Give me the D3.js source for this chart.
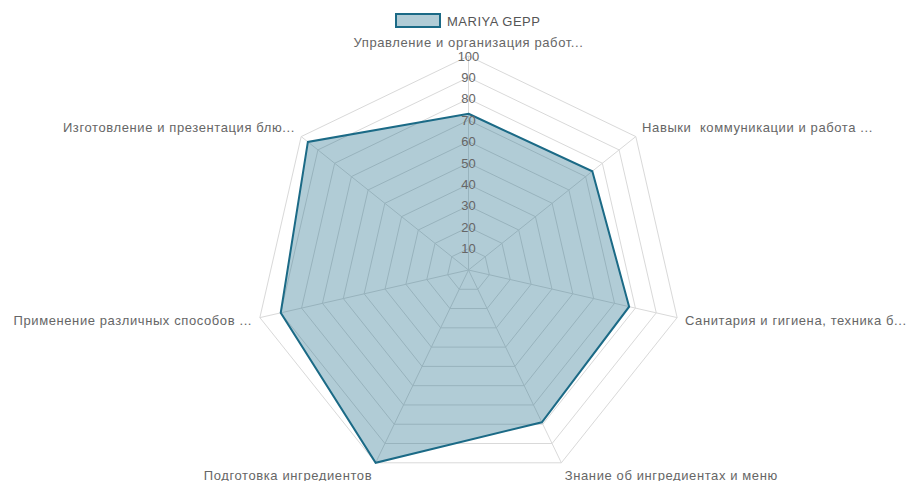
<!DOCTYPE html>
<html>
<head>
<meta charset="utf-8">
<script src="https://cdn.jsdelivr.net/npm/d3@7"></script>
<style>
  body { margin: 0; background: #fff; }
  text { font-family: "Liberation Sans", Arial, sans-serif; white-space: pre; }
</style>
</head>
<body>
<div id="radar"></div>
<script>
const axisNames = [
    "Управление и организация работ...",
    "Навыки  коммуникации и работа ...",
    "Санитария и гигиена, техника б...",
    "Знание об ингредиентах и меню",
    "Подготовка ингредиентов",
    "Применение различных способов ...",
    "Изготовление и презентация блю..."
];
const seriesName = "MARIYA GEPP";
const seriesValues = [73, 74, 77, 79, 100, 90, 96];
const ticks = [10, 20, 30, 40, 50, 60, 70, 80, 90, 100];

const width = 906;
const height = 481;
const cx = 468.5;
const cy = 270;
const radius = 214;
const lineColor = "#1b6a86";

const svg = d3.select("#radar").append("svg")
    .attr("width", width)
    .attr("height", height);

const r = d3.scaleLinear().domain([0, 100]).range([0, radius]);
const angle = d3.scaleLinear()
    .domain([0, axisNames.length])
    .range([0, 2 * Math.PI]);

const pt = (i, v) => [cx + r(v) * Math.sin(angle(i)), cy - r(v) * Math.cos(angle(i))];

const grid = svg.append("g").attr("class", "grid");

// rings
grid.selectAll("polygon")
    .data(ticks)
    .enter().append("polygon")
    .attr("points", t => axisNames.map((_, i) => pt(i, t).join(",")).join(" "))
    .attr("fill", "none")
    .attr("stroke", "#d9d9d9")
    .attr("stroke-width", 1);

// spokes
grid.selectAll("line")
    .data(axisNames)
    .enter().append("line")
    .attr("x1", cx)
    .attr("y1", cy)
    .attr("x2", (d, i) => pt(i, 100)[0])
    .attr("y2", (d, i) => pt(i, 100)[1])
    .attr("stroke", "#d9d9d9")
    .attr("stroke-width", 1);

// series area
const line = d3.line().curve(d3.curveLinearClosed);
svg.append("path")
    .datum(seriesValues)
    .attr("d", line(seriesValues.map((v, i) => pt(i, v))))
    .attr("fill", lineColor)
    .attr("fill-opacity", 0.34)
    .attr("stroke", lineColor)
    .attr("stroke-width", 2)
    .attr("stroke-linejoin", "miter");

// tick labels on the top spoke
svg.append("g").selectAll("text")
    .data(ticks)
    .enter().append("text")
    .attr("x", cx)
    .attr("y", t => cy - r(t))
    .attr("dy", "0.35em")
    .attr("text-anchor", "middle")
    .style("font-size", "13px")
    .style("fill", "#666")
    .text(t => t);

// axis names
svg.append("g").selectAll("text")
    .data(axisNames)
    .enter().append("text")
    .attr("x", (d, i) => cx + (radius + 8) * Math.sin(angle(i)))
    .attr("y", (d, i) => cy - (radius + 8) * Math.cos(angle(i)) - 6 * Math.cos(angle(i)))
    .attr("dy", "0.35em")
    .attr("text-anchor", (d, i) => {
        const s = Math.sin(angle(i));
        return Math.abs(s) < 0.01 ? "middle" : (s > 0 ? "start" : "end");
    })
    .style("font-size", "13px")
    .style("letter-spacing", "0.6px")
    .style("fill", "#666")
    .text(d => d);

// legend
const legend = svg.append("g").attr("class", "legend");
legend.append("rect")
    .attr("x", 396)
    .attr("y", 14)
    .attr("width", 44)
    .attr("height", 13)
    .attr("fill", lineColor)
    .attr("fill-opacity", 0.34)
    .attr("stroke", lineColor)
    .attr("stroke-width", 2);
legend.append("text")
    .attr("x", 447)
    .attr("y", 21)
    .attr("dy", "0.35em")
    .style("font-size", "13px")
    .style("letter-spacing", "0.5px")
    .style("fill", "#555")
    .text(seriesName);
</script>
</body>
</html>
